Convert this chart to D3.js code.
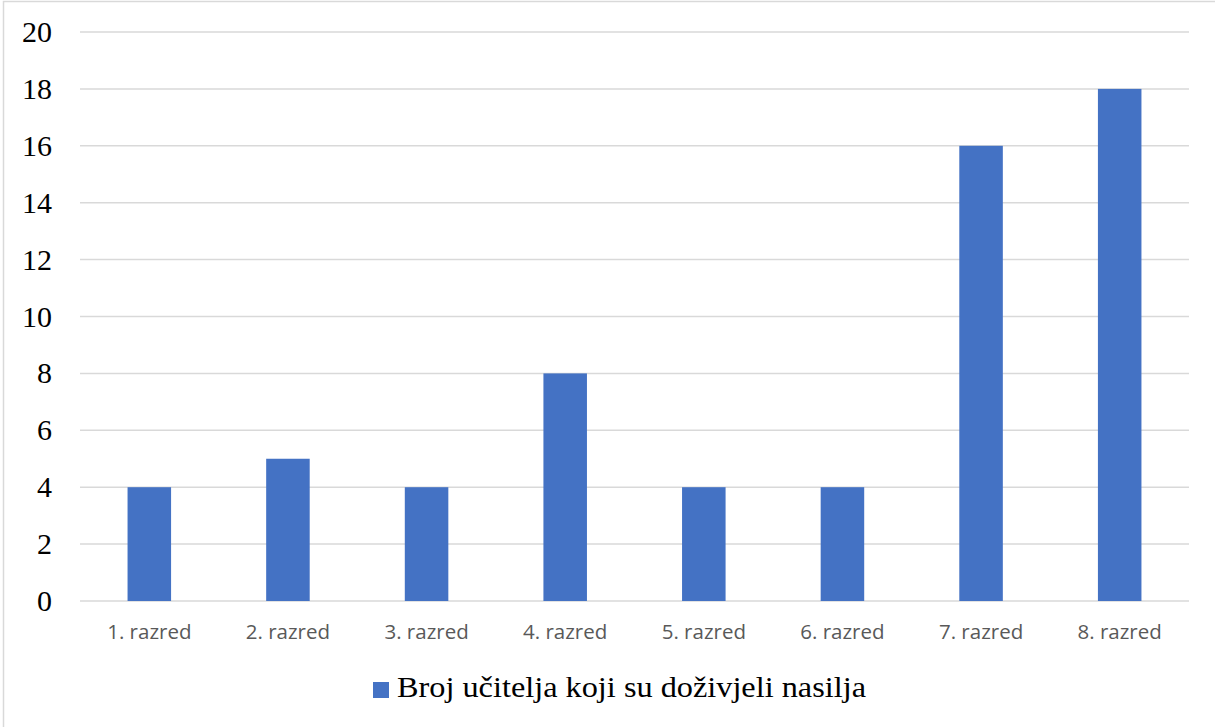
<!DOCTYPE html>
<html>
<head>
<meta charset="utf-8">
<script src="https://cdn.jsdelivr.net/npm/d3@7"></script>
<style>
  body { margin: 0; background: #fff; }
  svg { display: block; }
</style>
</head>
<body>
<div id="chart-area"></div>
<script>
// data
const categories = ["1. razred", "2. razred", "3. razred", "4. razred", "5. razred", "6. razred", "7. razred", "8. razred"];
const values = [4, 5, 4, 8, 4, 4, 16, 18];
const yTicks = [0, 2, 4, 6, 8, 10, 12, 14, 16, 18, 20];
const seriesName = "Broj učitelja koji su doživjeli nasilja";

const width = 1215, height = 727;
const plot = { left: 80, right: 1189, top: 32, bottom: 601 };

// pick the first serif face that is really installed
function hasFont(name) {
    const ctx = document.createElement("canvas").getContext("2d");
    const probe = "Broj učitelja 0123456789";
    return ["monospace", "sans-serif"].some(g => {
        ctx.font = "40px " + g;
        const w0 = ctx.measureText(probe).width;
        ctx.font = `40px "${name}", ${g}`;
        return ctx.measureText(probe).width !== w0;
    });
}
const serifFace = ["Liberation Serif", "Times New Roman", "Tinos", "DejaVu Serif", "Noto Serif"].find(hasFont);
const serif = serifFace ? `"${serifFace}", serif` : "serif";
const sans = "'Open Sans', 'Noto Sans', sans-serif";

const svg = d3.select("#chart-area")
    .append("svg")
    .attr("width", width)
    .attr("height", height);

// chart frame
svg.append("rect")
    .attr("x", 3.5).attr("y", 1.5)
    .attr("width", width + 10).attr("height", height + 10)
    .attr("fill", "none")
    .attr("stroke", "#d9d9d9")
    .attr("stroke-width", 1.5);

const x = d3.scaleBand()
    .domain(categories)
    .range([plot.left, plot.right])
    .paddingInner(0.686)
    .paddingOuter(0.343);

const y = d3.scaleLinear()
    .domain([0, 20])
    .range([plot.bottom, plot.top]);

// gridlines
svg.append("g")
    .selectAll("line")
    .data(yTicks)
    .join("line")
    .attr("x1", plot.left)
    .attr("x2", plot.right)
    .attr("y1", d => y(d))
    .attr("y2", d => y(d))
    .attr("stroke", "#d9d9d9")
    .attr("stroke-width", 1.5);

// y tick labels
svg.append("g")
    .selectAll("text")
    .data(yTicks)
    .join("text")
    .style("font-family", serif)
    .attr("x", 52)
    .attr("y", d => y(d) + 10)
    .attr("text-anchor", "end")
    .attr("font-size", 30)
    .attr("fill", "#000")
    .text(d => d);

// bars
svg.append("g")
    .selectAll("rect")
    .data(values)
    .join("rect")
    .attr("x", (d, i) => x(categories[i]))
    .attr("y", d => y(d))
    .attr("width", x.bandwidth())
    .attr("height", d => y(0) - y(d))
    .attr("fill", "#4472C4");

// x labels
svg.append("g")
    .selectAll("text")
    .data(categories)
    .join("text")
    .style("font-family", sans)
    .attr("x", d => x(d) + x.bandwidth() / 2)
    .attr("y", 639)
    .attr("text-anchor", "middle")
    .attr("font-size", 20.5)
    .attr("fill", "#595959")
    .text(d => d);

// legend
const legend = svg.append("g");
legend.append("rect")
    .attr("x", 373).attr("y", 682)
    .attr("width", 16).attr("height", 16)
    .attr("fill", "#4472C4");
legend.append("text")
    .style("font-family", serif)
    .attr("x", 397)
    .attr("y", 697)
    .attr("font-size", 30)
    .attr("fill", "#000")
    .attr("textLength", 469)
    .attr("lengthAdjust", "spacingAndGlyphs")
    .text(seriesName);
</script>
</body>
</html>
